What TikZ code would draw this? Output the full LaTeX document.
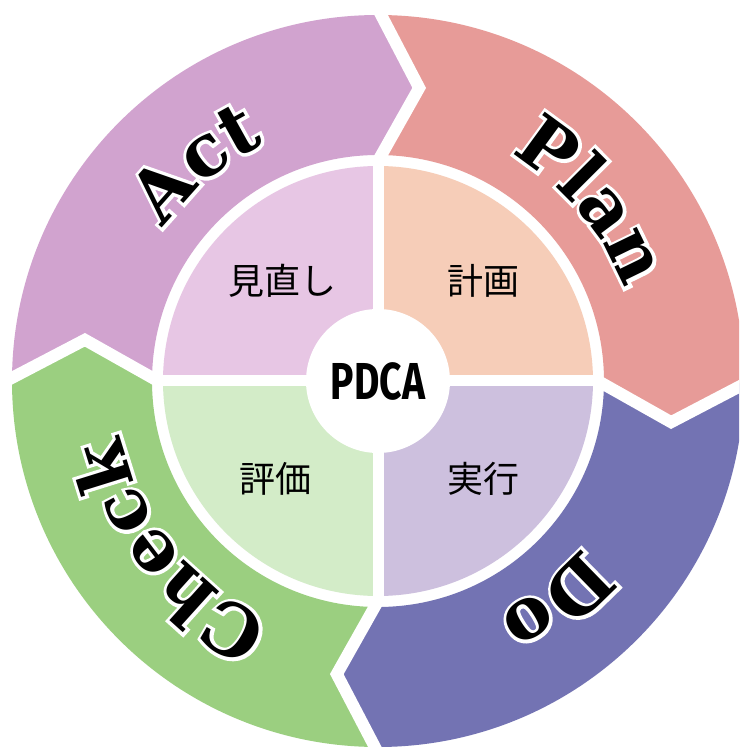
\documentclass[tikz,border=0pt]{standalone}
\usepackage{graphicx}
\usepackage{fontspec}
\usetikzlibrary{decorations.text}
\newfontfamily\jpfont{Noto Sans CJK JP}
\newfontfamily\hubfont{Fira Sans}
\newfontfamily\wordfont{DejaVu Serif Bold}
\newfontfamily\halofont{DejaVu Serif Bold}[FakeBold=9]

\definecolor{actring}{HTML}{D1A3CF}
\definecolor{planring}{HTML}{E79B98}
\definecolor{doring}{HTML}{7373B3}
\definecolor{checkring}{HTML}{9BCF80}
\definecolor{actin}{HTML}{E7C6E4}
\definecolor{planin}{HTML}{F6CDB8}
\definecolor{doin}{HTML}{CDC0DE}
\definecolor{checkin}{HTML}{D3ECC8}

\tikzset{
	ringgap/.style={white, line width=12pt},
	hub/.style={circle, fill=white, minimum size=144pt, inner sep=0pt,
		font=\hubfont\bfseries\fontsize{52}{52}\selectfont},
	jplabel/.style={font=\jpfont\fontsize{36}{36}\selectfont, inner sep=0pt}
}

% one band of the ring, #1 colour, #2 angle where it starts
\newcommand{\ringband}[2]{%
	\fill[#1] (#2:366) arc[start angle=#2, end angle=#2-90, radius=366]
		-- (#2-98:296) -- (#2-90:226) arc[start angle=#2-90, end angle=#2, radius=226]
		-- (#2-8:296) -- cycle;
}
% word along the ring, #1 word, #2 angle of its middle
\newcommand{\ringword}[2]{%
	\path[decorate, decoration={text along path, text align=center, text color=white,
		text={|\halofont\fontsize{72}{72}\selectfont|#1}}]
		(#2+70:263) arc[start angle=#2+70, end angle=#2-70, radius=263];
	\path[decorate, decoration={text along path, text align=center, text color=black,
		text={|\wordfont\fontsize{72}{72}\selectfont|#1}}]
		(#2+70:263) arc[start angle=#2+70, end angle=#2-70, radius=263];
}

\begin{document}
\begin{tikzpicture}[x=1pt, y=1pt]
	\useasboundingbox (-378,-371) rectangle (361,381);
	\clip (-378,-371) rectangle (361,381);
	\fill[white] (-378,-371) rectangle (361,381);
	% outer ring
	\ringband{planring}{90}
	\ringband{doring}{0}
	\ringband{checkring}{-90}
	\ringband{actring}{180}
	\foreach \a in {0,90,180,270}
		\draw[ringgap] (\a:372) -- (\a-8:296) -- (\a:220);
	% inner quarters
	\fill[planin] (0,0) -- (0:215) arc[start angle=0, end angle=90, radius=215] -- cycle;
	\fill[actin] (0,0) -- (90:215) arc[start angle=90, end angle=180, radius=215] -- cycle;
	\fill[checkin] (0,0) -- (180:215) arc[start angle=180, end angle=270, radius=215] -- cycle;
	\fill[doin] (0,0) -- (270:215) arc[start angle=270, end angle=360, radius=215] -- cycle;
	\draw[white, line width=11pt] (-220,0) -- (220,0);
	\draw[white, line width=11pt] (0,-220) -- (0,220);
	\node[hub] (pdca) at (0,0) {\scalebox{0.75}[1]{PDCA}};
	\node[jplabel] (review) at (-95,100) {見直し};
	\node[jplabel] (plan) at (105,100) {計画};
	\node[jplabel] (check) at (-102,-98) {評価};
	\node[jplabel] (do) at (105,-98) {実行};
	% words on the ring
	\ringword{Plan}{40}
	\ringword{Do}{-51}
	\ringword{Check}{-141}
	\ringword{Act}{130}
\end{tikzpicture}
\end{document}
